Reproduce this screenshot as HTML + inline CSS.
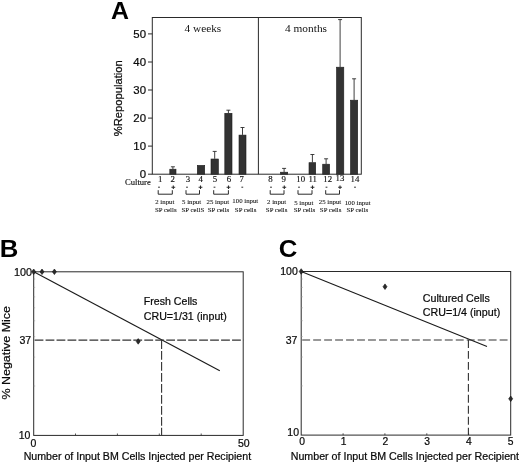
<!DOCTYPE html>
<html><head><meta charset="utf-8"><title>Figure</title>
<style>html,body{margin:0;padding:0;background:#fff;}svg{display:block;}.s{font-family:"Liberation Sans",Arial,Helvetica,sans-serif;fill:#0a0a0a;stroke:#0a0a0a;stroke-width:.22px;}.b{font-family:"Liberation Sans",Arial,Helvetica,sans-serif;fill:#000;}.r{font-family:"Liberation Serif","Times New Roman",serif;fill:#111;stroke:#111;stroke-width:.15px;}.t{stroke:#111;stroke-width:.08px;fill:#111;}</style></head><body>
<svg width="520" height="465" viewBox="0 0 520 465">
<rect width="520" height="465" fill="#fff"/>
<text class="b" x="111.1" y="19" font-size="24.5" font-weight="700" textLength="18" lengthAdjust="spacingAndGlyphs">A</text>
<g fill="none" stroke="#2a2a2a" stroke-width="1">
<rect x="152.3" y="17.5" width="209" height="156.7"/>
<line x1="258.4" y1="17.5" x2="258.4" y2="174.2"/>
<line x1="148" y1="174.2" x2="152.3" y2="174.2"/>
<line x1="148" y1="146.1" x2="152.3" y2="146.1"/>
<line x1="148" y1="118.1" x2="152.3" y2="118.1"/>
<line x1="148" y1="90.0" x2="152.3" y2="90.0"/>
<line x1="148" y1="62.0" x2="152.3" y2="62.0"/>
<line x1="148" y1="33.9" x2="152.3" y2="33.9"/>
</g>
<text class="s" x="146" y="178.3" font-size="11.4" text-anchor="end">0</text>
<text class="s" x="146" y="150.2" font-size="11.4" text-anchor="end">10</text>
<text class="s" x="146" y="122.2" font-size="11.4" text-anchor="end">20</text>
<text class="s" x="146" y="94.1" font-size="11.4" text-anchor="end">30</text>
<text class="s" x="146" y="66.1" font-size="11.4" text-anchor="end">40</text>
<text class="s" x="146" y="38.0" font-size="11.4" text-anchor="end">50</text>
<text class="s" font-size="11.3" text-anchor="middle" textLength="76" lengthAdjust="spacingAndGlyphs" transform="translate(121.5 98.3) rotate(-90)">%Repopulation</text>
<text class="r" style="stroke:none" x="184.6" y="31.6" font-size="11.3" textLength="36.6" lengthAdjust="spacingAndGlyphs">4 weeks</text>
<text class="r" style="stroke:none" x="285" y="31.6" font-size="11.3" textLength="42" lengthAdjust="spacingAndGlyphs">4 months</text>
<rect x="169.8" y="169.2" width="6.2" height="5.0" fill="#333" stroke="#1c1c1c" stroke-width="0.6"/>
<path d="M172.9 169.0 V166.8 M170.9 166.8 H174.9" stroke="#2a2a2a" stroke-width="0.9" fill="none"/>
<rect x="197.3" y="165.4" width="7.4" height="8.8" fill="#333" stroke="#1c1c1c" stroke-width="0.6"/>
<rect x="211.0" y="159.0" width="7.4" height="15.2" fill="#333" stroke="#1c1c1c" stroke-width="0.6"/>
<path d="M214.7 158.8 V151.4 M212.7 151.4 H216.7" stroke="#2a2a2a" stroke-width="0.9" fill="none"/>
<rect x="224.8" y="113.3" width="7.2" height="60.9" fill="#333" stroke="#1c1c1c" stroke-width="0.6"/>
<path d="M228.4 113.1 V110.2 M226.4 110.2 H230.4" stroke="#2a2a2a" stroke-width="0.9" fill="none"/>
<rect x="239.0" y="135.1" width="7.0" height="39.1" fill="#333" stroke="#1c1c1c" stroke-width="0.6"/>
<path d="M242.5 134.9 V127.5 M240.5 127.5 H244.5" stroke="#2a2a2a" stroke-width="0.9" fill="none"/>
<rect x="280.6" y="172.2" width="7.1" height="2.0" fill="#333" stroke="#1c1c1c" stroke-width="0.6"/>
<path d="M284.1 172.0 V168.4 M282.1 168.4 H286.1" stroke="#2a2a2a" stroke-width="0.9" fill="none"/>
<rect x="309.0" y="162.7" width="6.7" height="11.5" fill="#333" stroke="#1c1c1c" stroke-width="0.6"/>
<path d="M312.4 162.5 V154.5 M310.4 154.5 H314.4" stroke="#2a2a2a" stroke-width="0.9" fill="none"/>
<rect x="322.7" y="164.2" width="6.9" height="10.0" fill="#333" stroke="#1c1c1c" stroke-width="0.6"/>
<path d="M326.1 164.0 V158.8 M324.1 158.8 H328.1" stroke="#2a2a2a" stroke-width="0.9" fill="none"/>
<rect x="336.5" y="67.2" width="7.3" height="107.0" fill="#333" stroke="#1c1c1c" stroke-width="0.6"/>
<path d="M340.1 67.0 V19.6 M338.1 19.6 H342.1" stroke="#2a2a2a" stroke-width="0.9" fill="none"/>
<rect x="350.5" y="100.2" width="7.2" height="74.0" fill="#333" stroke="#1c1c1c" stroke-width="0.6"/>
<path d="M354.1 100.0 V78.8 M352.1 78.8 H356.1" stroke="#2a2a2a" stroke-width="0.9" fill="none"/>
<text class="r" x="125.0" y="184.6" font-size="8.7" textLength="25.8" lengthAdjust="spacingAndGlyphs">Culture</text>
<text class="r" x="160.1" y="182.2" font-size="8.8" text-anchor="middle">1</text>
<text class="r" x="172.6" y="182.2" font-size="8.8" text-anchor="middle">2</text>
<text class="r" x="188" y="182.2" font-size="8.8" text-anchor="middle">3</text>
<text class="r" x="200.7" y="182.2" font-size="8.8" text-anchor="middle">4</text>
<text class="r" x="215" y="182.2" font-size="8.8" text-anchor="middle">5</text>
<text class="r" x="229" y="182.2" font-size="8.8" text-anchor="middle">6</text>
<text class="r" x="241.7" y="182.2" font-size="8.8" text-anchor="middle">7</text>
<text class="r" x="270.5" y="182.2" font-size="8.8" text-anchor="middle">8</text>
<text class="r" x="283.7" y="182.2" font-size="8.8" text-anchor="middle">9</text>
<text class="r" x="300.7" y="182.2" font-size="8.8" text-anchor="middle">10</text>
<text class="r" x="312.7" y="182.2" font-size="8.8" text-anchor="middle">11</text>
<text class="r" x="327.7" y="182.2" font-size="8.8" text-anchor="middle">12</text>
<text class="r" x="340" y="181.4" font-size="8.8" text-anchor="middle">13</text>
<text class="r" x="355" y="182.2" font-size="8.8" text-anchor="middle">14</text>
<g stroke="#2a2a2a" stroke-width="1" fill="none">
<line x1="158.1" y1="187.2" x2="159.9" y2="187.2"/>
<line x1="186.1" y1="187.2" x2="187.9" y2="187.2"/>
<line x1="213.6" y1="187.2" x2="215.4" y2="187.2"/>
<line x1="241.4" y1="187.2" x2="243.20000000000002" y2="187.2"/>
<line x1="270.1" y1="187.2" x2="271.9" y2="187.2"/>
<line x1="298.1" y1="187.2" x2="299.9" y2="187.2"/>
<line x1="325.6" y1="187.2" x2="327.4" y2="187.2"/>
<line x1="354.1" y1="187.2" x2="355.9" y2="187.2"/>
<path d="M171.4 187.2 H175.2 M173.3 185.4 V189.0" stroke-width="1.1"/>
<path d="M198.6 187.2 H202.4 M200.5 185.4 V189.0" stroke-width="1.1"/>
<path d="M226.6 187.2 H230.4 M228.5 185.4 V189.0" stroke-width="1.1"/>
<path d="M282.4 187.2 H286.2 M284.3 185.4 V189.0" stroke-width="1.1"/>
<path d="M310.6 187.2 H314.4 M312.5 185.4 V189.0" stroke-width="1.1"/>
<path d="M338.1 187.2 H341.9 M340 185.4 V189.0" stroke-width="1.1"/>
<path d="M158.2 190.2 V194.2 H172.3 V190.2"/>
<path d="M186 190.2 V194.2 H199.5 V190.2"/>
<path d="M213.7 190.2 V194.2 H228.4 V190.2"/>
<path d="M270.2 190.2 V194.2 H284 V190.2"/>
<path d="M298 190.2 V194.2 H312 V190.2"/>
<path d="M325.7 190.2 V194.2 H339.5 V190.2"/>
</g>
<text class="r t" x="164.8" y="204.3" font-size="6.8" text-anchor="middle">2 input</text>
<text class="r t" x="165.8" y="211.7" font-size="6.8" text-anchor="middle">SP cells</text>
<text class="r t" x="191.6" y="203.8" font-size="6.8" text-anchor="middle">5 input</text>
<text class="r t" x="192.9" y="211.7" font-size="6.8" text-anchor="middle">SP cellS</text>
<text class="r t" x="217.8" y="203.8" font-size="6.8" text-anchor="middle">25 input</text>
<text class="r t" x="218.5" y="211.7" font-size="6.8" text-anchor="middle">SP cells</text>
<text class="r t" x="245.3" y="203.4" font-size="6.8" text-anchor="middle">100 input</text>
<text class="r t" x="245.6" y="211.7" font-size="6.8" text-anchor="middle">SP cells</text>
<text class="r t" x="276.6" y="204.1" font-size="6.8" text-anchor="middle">2 input</text>
<text class="r t" x="276.6" y="211.9" font-size="6.8" text-anchor="middle">SP cells</text>
<text class="r t" x="303.8" y="204.5" font-size="6.8" text-anchor="middle">5 input</text>
<text class="r t" x="304.5" y="211.9" font-size="6.8" text-anchor="middle">SP cells</text>
<text class="r t" x="330.0" y="204.2" font-size="6.8" text-anchor="middle">25 input</text>
<text class="r t" x="330.6" y="211.9" font-size="6.8" text-anchor="middle">SP cells</text>
<text class="r t" x="357.6" y="205.0" font-size="6.8" text-anchor="middle">100 input</text>
<text class="r t" x="357.3" y="211.9" font-size="6.8" text-anchor="middle">SP cells</text>
<text class="b" x="-0.2" y="256.6" font-size="23.6" font-weight="700" textLength="18.6" lengthAdjust="spacingAndGlyphs">B</text>
<g fill="none" stroke="#2a2a2a" stroke-width="1">
<rect x="33.7" y="271.8" width="209.5" height="163.6"/>
<line x1="33.7" y1="271.8" x2="219.8" y2="370.7" stroke="#1a1a1a" stroke-width="1.15"/>
<line x1="34.6" y1="340.1" x2="243.2" y2="340.1" stroke-dasharray="8.8 2.17" stroke-width="1.1" stroke="#333"/>
<line x1="161.6" y1="340.1" x2="161.6" y2="435.3" stroke-dasharray="8.8 2.17" stroke-width="1.1" stroke="#333"/>
<line x1="33.6" y1="386.0" x2="35.2" y2="386.0" stroke-width="0.6" stroke="#999"/>
<line x1="33.6" y1="357.1" x2="35.2" y2="357.1" stroke-width="0.6" stroke="#999"/>
<line x1="33.6" y1="336.7" x2="35.2" y2="336.7" stroke-width="0.6" stroke="#999"/>
<line x1="33.6" y1="320.8" x2="35.2" y2="320.8" stroke-width="0.6" stroke="#999"/>
<line x1="33.6" y1="307.8" x2="35.2" y2="307.8" stroke-width="0.6" stroke="#999"/>
<line x1="33.6" y1="296.9" x2="35.2" y2="296.9" stroke-width="0.6" stroke="#999"/>
<line x1="33.6" y1="287.4" x2="35.2" y2="287.4" stroke-width="0.6" stroke="#999"/>
<line x1="33.6" y1="279.0" x2="35.2" y2="279.0" stroke-width="0.6" stroke="#999"/>
<line x1="75.5" y1="435.3" x2="75.5" y2="433.5" stroke-width="0.8"/>
<line x1="117.4" y1="435.3" x2="117.4" y2="433.5" stroke-width="0.8"/>
<line x1="159.3" y1="435.3" x2="159.3" y2="433.5" stroke-width="0.8"/>
<line x1="201.2" y1="435.3" x2="201.2" y2="433.5" stroke-width="0.8"/>
</g>
<path d="M33.7 269.0 L35.7 271.8 L33.7 274.6 L31.700000000000003 271.8 Z" fill="#2a2a2a" stroke="#111" stroke-width="0.6"/>
<path d="M42.0 269.0 L44.0 271.8 L42.0 274.6 L40.0 271.8 Z" fill="#2a2a2a" stroke="#111" stroke-width="0.6"/>
<path d="M54.4 269.0 L56.4 271.8 L54.4 274.6 L52.4 271.8 Z" fill="#2a2a2a" stroke="#111" stroke-width="0.6"/>
<path d="M138.2 338.59999999999997 L140.2 341.4 L138.2 344.2 L136.2 341.4 Z" fill="#2a2a2a" stroke="#111" stroke-width="0.6"/>
<text class="s" x="32.0" y="275.8" font-size="10.8" text-anchor="end">100</text>
<text class="s" x="31.2" y="344.3" font-size="10.6" text-anchor="end">37</text>
<text class="s" x="30.4" y="438.9" font-size="10.5" text-anchor="end">10</text>
<text class="s" x="33.4" y="446.8" font-size="10.5" text-anchor="middle">0</text>
<text class="s" x="243.8" y="446.8" font-size="10.5" text-anchor="middle">50</text>
<text class="s" x="143.8" y="305.3" font-size="10.6" textLength="53.6" lengthAdjust="spacingAndGlyphs">Fresh Cells</text>
<text class="s" x="143.8" y="319.9" font-size="10.6" textLength="83" lengthAdjust="spacingAndGlyphs">CRU=1/31 (input)</text>
<text class="s" x="23.7" y="459.8" font-size="10.6" textLength="227.4" lengthAdjust="spacingAndGlyphs">Number of Input BM Cells Injected per Recipient</text>
<text class="s" font-size="11.4" text-anchor="middle" textLength="93.6" lengthAdjust="spacingAndGlyphs" transform="translate(9.5 352.8) rotate(-90)">% Negative Mice</text>
<text class="b" x="278.8" y="257.2" font-size="24.8" font-weight="700" textLength="18.6" lengthAdjust="spacingAndGlyphs">C</text>
<g fill="none" stroke="#2a2a2a" stroke-width="1">
<rect x="301.2" y="271.5" width="209.5" height="163.6"/>
<line x1="301.2" y1="271.5" x2="487" y2="346.4" stroke="#1a1a1a" stroke-width="1.1"/>
<line x1="302.2" y1="340" x2="510.7" y2="340" stroke-dasharray="7.9 3.07" stroke-width="1.1" stroke="#333"/>
<line x1="468.4" y1="340" x2="468.4" y2="435.1" stroke-dasharray="7.9 3.07" stroke-width="1.1" stroke="#333"/>
<line x1="301.2" y1="385.9" x2="302.8" y2="385.9" stroke-width="0.6" stroke="#999"/>
<line x1="301.2" y1="357.0" x2="302.8" y2="357.0" stroke-width="0.6" stroke="#999"/>
<line x1="301.2" y1="336.6" x2="302.8" y2="336.6" stroke-width="0.6" stroke="#999"/>
<line x1="301.2" y1="320.7" x2="302.8" y2="320.7" stroke-width="0.6" stroke="#999"/>
<line x1="301.2" y1="307.8" x2="302.8" y2="307.8" stroke-width="0.6" stroke="#999"/>
<line x1="301.2" y1="296.8" x2="302.8" y2="296.8" stroke-width="0.6" stroke="#999"/>
<line x1="301.2" y1="287.4" x2="302.8" y2="287.4" stroke-width="0.6" stroke="#999"/>
<line x1="301.2" y1="279.0" x2="302.8" y2="279.0" stroke-width="0.6" stroke="#999"/>
<line x1="343.1" y1="435.1" x2="343.1" y2="433.3" stroke-width="0.8"/>
<line x1="384.9" y1="435.1" x2="384.9" y2="433.3" stroke-width="0.8"/>
<line x1="426.8" y1="435.1" x2="426.8" y2="433.3" stroke-width="0.8"/>
<line x1="468.6" y1="435.1" x2="468.6" y2="433.3" stroke-width="0.8"/>
</g>
<path d="M301.2 268.7 L303.2 271.5 L301.2 274.3 L299.2 271.5 Z" fill="#2a2a2a" stroke="#111" stroke-width="0.6"/>
<path d="M385 283.9 L387.0 286.7 L385 289.5 L383.0 286.7 Z" fill="#2a2a2a" stroke="#111" stroke-width="0.6"/>
<path d="M510.7 396.0 L512.7 398.8 L510.7 401.6 L508.7 398.8 Z" fill="#2a2a2a" stroke="#111" stroke-width="0.6"/>
<text class="s" x="297.8" y="275.2" font-size="10.5" text-anchor="end">100</text>
<text class="s" x="297.4" y="343.9" font-size="10.5" text-anchor="end">37</text>
<text class="s" x="299" y="435.8" font-size="10.5" text-anchor="end">10</text>
<text class="s" x="302.0" y="445.4" font-size="10.3" text-anchor="middle">0</text>
<text class="s" x="343.7" y="445.4" font-size="10.3" text-anchor="middle">1</text>
<text class="s" x="385.4" y="445.4" font-size="10.3" text-anchor="middle">2</text>
<text class="s" x="427.1" y="445.4" font-size="10.3" text-anchor="middle">3</text>
<text class="s" x="468.8" y="445.4" font-size="10.3" text-anchor="middle">4</text>
<text class="s" x="510.5" y="445.4" font-size="10.3" text-anchor="middle">5</text>
<text class="s" x="422.8" y="301.7" font-size="10.6" textLength="67" lengthAdjust="spacingAndGlyphs">Cultured Cells</text>
<text class="s" x="422.8" y="316" font-size="10.6" textLength="77.4" lengthAdjust="spacingAndGlyphs">CRU=1/4 (input)</text>
<text class="s" x="290.7" y="460.2" font-size="10.6" textLength="228.3" lengthAdjust="spacingAndGlyphs">Number of Input BM Cells Injected per Recipient</text>
</svg></body></html>
